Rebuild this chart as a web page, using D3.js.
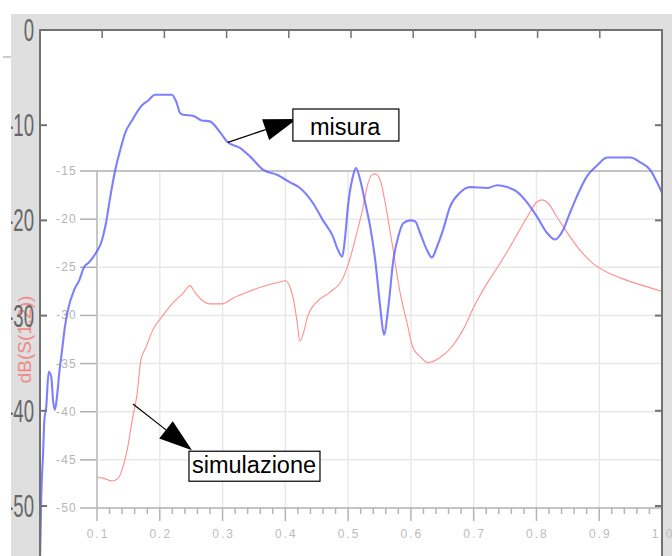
<!DOCTYPE html>
<html>
<head>
<meta charset="utf-8">
<script src="https://cdn.jsdelivr.net/npm/d3@7"></script>
<style>
    body { margin: 0; background: #fff; }
    svg { display: block; }
</style>
</head>
<body>
<div id="chart"></div>
<script>
// outer plot (measurement) ticks
var outerYTicks = [0, -10, -20, -30, -40, -50];
var outerTopTicks = [0.1, 0.2, 0.3, 0.4, 0.5, 0.6, 0.7, 0.8, 0.9];
// inner plot (simulation) ticks
var innerYTicks = [-15, -20, -25, -30, -35, -40, -45, -50];
var innerXTicks = [0.1, 0.2, 0.3, 0.4, 0.5, 0.6, 0.7, 0.8, 0.9, 1.0];
var yLabel = 'dB(S(1,2))';

// measured curve ("misura"), outer axes
var misuraF = [0, 0.002, 0.005, 0.007, 0.010, 0.014, 0.018, 0.021, 0.024, 0.028, 0.031, 0.035, 0.040, 0.045, 0.055, 0.063,
    0.071, 0.079, 0.090, 0.098, 0.106, 0.113, 0.121, 0.129, 0.137, 0.148, 0.164, 0.174, 0.185, 0.212, 0.220, 0.225,
    0.230, 0.246, 0.260, 0.273, 0.289, 0.302, 0.322, 0.338, 0.359, 0.381, 0.402, 0.418, 0.439, 0.455, 0.471, 0.479,
    0.486, 0.490, 0.495, 0.503, 0.508, 0.515, 0.523, 0.531, 0.539, 0.547, 0.553, 0.560, 0.568, 0.576, 0.584, 0.595,
    0.603, 0.611, 0.622, 0.630, 0.638, 0.648, 0.659, 0.675, 0.691, 0.719, 0.735, 0.751, 0.767, 0.783, 0.799, 0.815,
    0.828, 0.841, 0.852, 0.863, 0.879, 0.896, 0.912, 0.949, 0.965, 0.981, 0.992, 1.0];
var misuraDb = [-56, -49.1, -44.4, -41.0, -39.6, -35.9, -36.4, -38.9, -39.9, -38.1, -36.0, -33.9, -31.2, -29.4, -27.3, -26.3,
    -24.9, -24.4, -23.4, -22.4, -20.3, -17.5, -14.7, -12.6, -10.8, -9.5, -7.9, -7.4, -6.8, -6.8, -7.7, -8.7,
    -8.9, -9.0, -9.5, -9.6, -10.7, -11.8, -12.4, -13.3, -14.7, -15.2, -16.0, -16.6, -18.2, -20.0, -21.7, -23.1,
    -23.8, -22.1, -18.6, -15.4, -14.5, -15.8, -18.2, -20.7, -24.2, -29.1, -32.0, -29.1, -24.2, -21.7, -20.3, -20.0,
    -20.1, -21.3, -23.1, -23.9, -22.8, -21.0, -18.6, -17.1, -16.5, -16.6, -16.3, -16.5, -17.0, -18.1, -19.6, -21.3,
    -22.0, -21.0, -19.2, -17.5, -15.4, -14.2, -13.4, -13.4, -13.9, -14.7, -16.0, -17.1];

// simulated curve ("simulazione"), inner axes
var simF = [0.100, 0.110, 0.124, 0.134, 0.140, 0.148, 0.156, 0.164, 0.170, 0.178, 0.189, 0.205, 0.221, 0.237, 0.248, 0.256,
    0.267, 0.280, 0.299, 0.317, 0.339, 0.364, 0.387, 0.400, 0.407, 0.414, 0.419, 0.423, 0.428, 0.436, 0.450, 0.471,
    0.492, 0.503, 0.514, 0.524, 0.530, 0.538, 0.543, 0.551, 0.559, 0.570, 0.583, 0.594, 0.603, 0.615, 0.627, 0.646,
    0.666, 0.683, 0.702, 0.721, 0.742, 0.763, 0.785, 0.801, 0.809, 0.818, 0.833, 0.849, 0.869, 0.890, 0.912, 0.933,
    0.965, 1.0];
var simDb = [-46.8, -46.9, -47.2, -46.9, -46.0, -44.0, -40.9, -38.1, -34.6, -33.3, -31.5, -30.0, -28.7, -27.7, -26.9, -27.6,
    -28.4, -28.8, -28.8, -28.2, -27.6, -27.0, -26.6, -26.4, -27.0, -28.7, -30.8, -32.7, -32.0, -30.0, -28.6, -27.6,
    -26.1, -24.1, -21.4, -18.7, -16.7, -15.4, -15.3, -15.9, -18.3, -22.5, -27.7, -30.8, -33.3, -34.3, -34.9, -34.4,
    -33.2, -31.5, -28.9, -26.7, -24.6, -22.3, -19.8, -18.2, -18.0, -18.3, -19.8, -21.4, -23.2, -24.6, -25.5, -26.1,
    -26.8, -27.5];

var width = 672, height = 556;
var svg = d3.select('#chart').append('svg').attr('width', width).attr('height', height);

// outer scales
var xo = d3.scaleLinear().domain([0, 1]).range([40, 662]);
var yo = d3.scaleLinear().domain([0, -50]).range([30, 506]);
// inner scales
var xi = d3.scaleLinear().domain([0.1, 1.0]).range([97, 662]);
var yi = d3.scaleLinear().domain([-15, -50]).range([171, 508]);

var defs = svg.append('defs');
defs.append('clipPath').attr('id', 'plotClip')
    .append('rect').attr('x', 40).attr('y', 30).attr('width', 622).attr('height', 526);
defs.append('clipPath').attr('id', 'labelClip')
    .append('rect').attr('x', 11).attr('y', 0).attr('width', 40).attr('height', height);

//grey frame + white plot area
svg.append('rect').attr('x', 11).attr('y', 14).attr('width', width - 11).attr('height', height - 14)
    .style('fill', '#dfdfdf');
svg.append('rect').attr('x', 40).attr('y', 30).attr('width', 622).attr('height', 526)
    .style('fill', '#fff');
svg.append('line').attr('x1', 3).attr('x2', 11).attr('y1', 57).attr('y2', 57)
    .attr('stroke', '#999').attr('stroke-width', 1);

//red y label of inner plot
svg.append('text')
    .attr('transform', 'translate(24,' + yi(-32.5) + ') rotate(-90)')
    .attr('text-anchor', 'middle')
    .attr('dominant-baseline', 'central')
    .attr('font-family', 'Liberation Sans, Arial, sans-serif')
    .attr('font-size', 19)
    .attr('fill', '#f28888')
    .text(yLabel);

//inner grid
var inner = svg.append('g');
innerXTicks.forEach(function (t, i) {
    inner.append('line')
        .attr('x1', xi(t)).attr('x2', xi(t))
        .attr('y1', yi(-15)).attr('y2', yi(-50))
        .attr('stroke', i === 0 ? '#b4b4b4' : '#e8e8e8').attr('stroke-width', 1.5);
});
innerYTicks.forEach(function (t, i) {
    var edge = (i === 0 || t === -50);
    inner.append('line')
        .attr('x1', xi(0.1)).attr('x2', xi(1.0))
        .attr('y1', yi(t)).attr('y2', yi(t))
        .attr('stroke', edge ? '#b0b0b0' : '#e8e8e8').attr('stroke-width', 1.5);
    inner.append('line')
        .attr('x1', 80).attr('x2', xi(0.1))
        .attr('y1', yi(t)).attr('y2', yi(t))
        .attr('stroke', '#b0b0b0').attr('stroke-width', 1.5);
    inner.append('text')
        .attr('x', 77).attr('y', yi(t) + 4)
        .attr('text-anchor', 'end')
        .attr('font-family', 'Liberation Sans, Arial, sans-serif')
        .attr('font-size', 12)
        .attr('letter-spacing', 1.2)
        .attr('fill', '#b4b4b4')
        .text(t);
});
//minor / major ticks under inner x axis
d3.range(0.1, 1.0001, 0.02).forEach(function (t) {
    var major = Math.abs(Math.round(t * 10) - t * 10) < 1e-6;
    inner.append('line')
        .attr('x1', xi(t)).attr('x2', xi(t))
        .attr('y1', yi(-50)).attr('y2', yi(-50) + (major ? 13 : 6))
        .attr('stroke', '#b4b4b4').attr('stroke-width', 1.5);
});

//simulation curve
svg.append('path')
    .datum(d3.zip(simF, simDb))
    .attr('d', d3.line().x(function (d) { return xi(d[0]); }).y(function (d) { return yi(d[1]); })
        .curve(d3.curveMonotoneX))
    .attr('fill', 'none')
    .attr('stroke', '#ff8e8e')
    .attr('stroke-width', 1.1);

//measured curve
svg.append('path')
    .datum(d3.zip(misuraF, misuraDb))
    .attr('clip-path', 'url(#plotClip)')
    .attr('d', d3.line().x(function (d) { return xo(d[0]); }).y(function (d) { return yo(d[1]); })
        .curve(d3.curveMonotoneX))
    .attr('fill', 'none')
    .attr('stroke', '#6262ff')
    .attr('stroke-opacity', 0.82)
    .attr('stroke-width', 2.1);

//right grey strip over the plot edge, then inner x labels
svg.append('rect').attr('x', 663).attr('y', 14).attr('width', 9).attr('height', height - 14)
    .style('fill', '#dfdfdf');
innerXTicks.forEach(function (t) {
    svg.append('text')
        .attr('x', xi(t) + 1).attr('y', 538)
        .attr('text-anchor', 'middle')
        .attr('font-family', 'Liberation Sans, Arial, sans-serif')
        .attr('font-size', 12)
        .attr('letter-spacing', 2)
        .attr('fill', '#bcbcbc')
        .text(t.toFixed(1));
});

//outer frame
svg.append('path')
    .attr('d', 'M' + xo(0) + ',' + height + 'V' + yo(0) + 'H' + xo(1) + 'V' + height)
    .attr('fill', 'none').attr('stroke', '#727272').attr('stroke-width', 2);
outerTopTicks.forEach(function (t) {
    svg.append('line')
        .attr('x1', xo(t)).attr('x2', xo(t)).attr('y1', yo(0)).attr('y2', yo(0) + 8)
        .attr('stroke', '#727272').attr('stroke-width', 1.5);
});
outerYTicks.forEach(function (t) {
    if (t === 0) return;
    svg.append('line')
        .attr('x1', xo(0)).attr('x2', xo(0) + 7).attr('y1', yo(t)).attr('y2', yo(t))
        .attr('stroke', '#727272').attr('stroke-width', 2);
    svg.append('line')
        .attr('x1', xo(1) - 7).attr('x2', xo(1)).attr('y1', yo(t)).attr('y2', yo(t))
        .attr('stroke', '#727272').attr('stroke-width', 2);
});
var outerLabels = svg.append('g').attr('clip-path', 'url(#labelClip)');
outerYTicks.forEach(function (t) {
    outerLabels.append('g')
        .attr('transform', 'translate(34,' + (yo(t) + 11) + ')')
        .append('text')
        .attr('transform', 'scale(0.58,1)')
        .attr('text-anchor', 'end')
        .attr('font-family', 'Liberation Sans, Arial, sans-serif')
        .attr('font-size', 32)
        .attr('fill', '#666')
        .text(t);
});

//annotations
function annotate(tail, tip, label, box, textPos) {
    var dx = tip[0] - tail[0], dy = tip[1] - tail[1];
    var len = Math.sqrt(dx * dx + dy * dy);
    var ux = dx / len, uy = dy / len;
    var bx = tip[0] - 33 * ux, by = tip[1] - 33 * uy;
    svg.append('line')
        .attr('x1', tail[0]).attr('y1', tail[1]).attr('x2', bx).attr('y2', by)
        .attr('stroke', '#000').attr('stroke-width', 1.2);
    svg.append('path')
        .attr('d', 'M' + tip[0] + ',' + tip[1] + 'L' + (bx - 11 * uy) + ',' + (by + 11 * ux) +
            'L' + (bx + 11 * uy) + ',' + (by - 11 * ux) + 'Z')
        .attr('fill', '#000');
    svg.append('rect')
        .attr('x', tip[0] + box[0]).attr('y', tip[1] + box[1])
        .attr('width', box[2]).attr('height', box[3])
        .attr('fill', '#fff').attr('stroke', '#000').attr('stroke-width', 1.2);
    svg.append('text')
        .attr('x', tip[0] + textPos[0]).attr('y', tip[1] + textPos[1])
        .attr('font-family', 'Liberation Sans, Arial, sans-serif')
        .attr('font-size', 23.5)
        .attr('fill', '#000')
        .text(label);
}
annotate([xo(0.302), yo(-11.8)], [xo(0.413), yo(-9.35)], 'misura', [-4, -10, 106, 32], [13, 16]);
annotate([xi(0.1573), yi(-39.2)], [xi(0.2513), yi(-44.0)], 'simulazione', [-3, 1, 131, 30], [0, 23]);
</script>
</body>
</html>
